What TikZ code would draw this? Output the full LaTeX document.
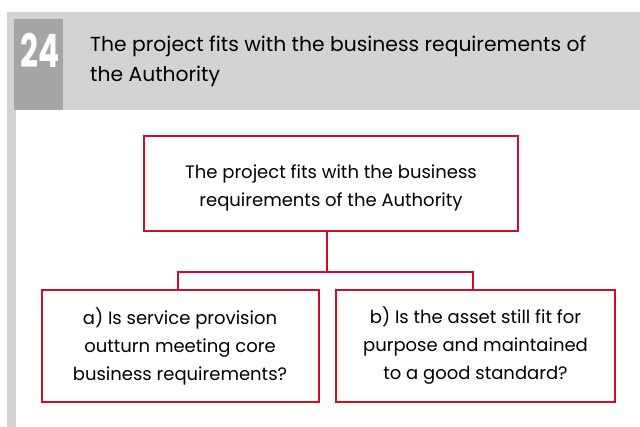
\documentclass[tikz,border=0pt]{standalone}
\usepackage{fontspec}
\setmainfont{Poppins}
\definecolor{hdrgray}{HTML}{D1D3D4}
\definecolor{numgray}{HTML}{A3A5A7}
\definecolor{boxred}{HTML}{C8102E}
\begin{document}
\begin{tikzpicture}[x=1pt,y=-1pt,
  qbox/.style={draw=boxred,line width=2pt,fill=white,align=center,
    font=\fontsize{18}{28}\selectfont,inner sep=0pt},
  qtext/.style={align=center,font=\fontsize{18}{28}\selectfont,inner sep=0pt},
  link/.style={draw=boxred,line width=2pt}]
\useasboundingbox (0,0) rectangle (640,427);
\fill[white] (0,0) rectangle (640,427);
% header band and left bar
\fill[hdrgray] (7,12) rectangle (640,110);
\fill[hdrgray] (7,110) rectangle (16,427);
\fill[numgray] (14,19) rectangle (63,110);
\node[font=\fontsize{46}{46}\selectfont\bfseries,text=white,anchor=center,inner sep=0pt] (num) at (40,50) {\scalebox{0.68}[1]{24}};
\node[anchor=north west,align=left,inner sep=0pt,font=\fontsize{20.3}{30}\selectfont] (title) at (90,35.5) {The project fits with the business requirements of\\the Authority};
% boxes
\node[qbox,minimum width=374pt,minimum height=95pt] (top) at (331,183.5) {};
\node[qtext] (toptext) at ([yshift=-4pt]top.center) {The project fits with the business\\requirements of the Authority};
\node[qbox,minimum width=277pt,minimum height=112pt] (a) at (180,346) {a) Is service provision\\outturn meeting core\\business requirements?};
\node[qbox,minimum width=279pt,minimum height=112pt] (b) at (475.5,346) {b) Is the asset still fit for\\purpose and maintained\\to a good standard?};
% connectors
\coordinate (mid) at (327,272);
\coordinate (la) at (178,272);
\coordinate (lb) at (473,272);
\draw[link] (top.south -| mid) -- (mid);
\draw[link] (a.north -| la) -- (la) -- (lb) -- (b.north -| lb);
\end{tikzpicture}
\end{document}
